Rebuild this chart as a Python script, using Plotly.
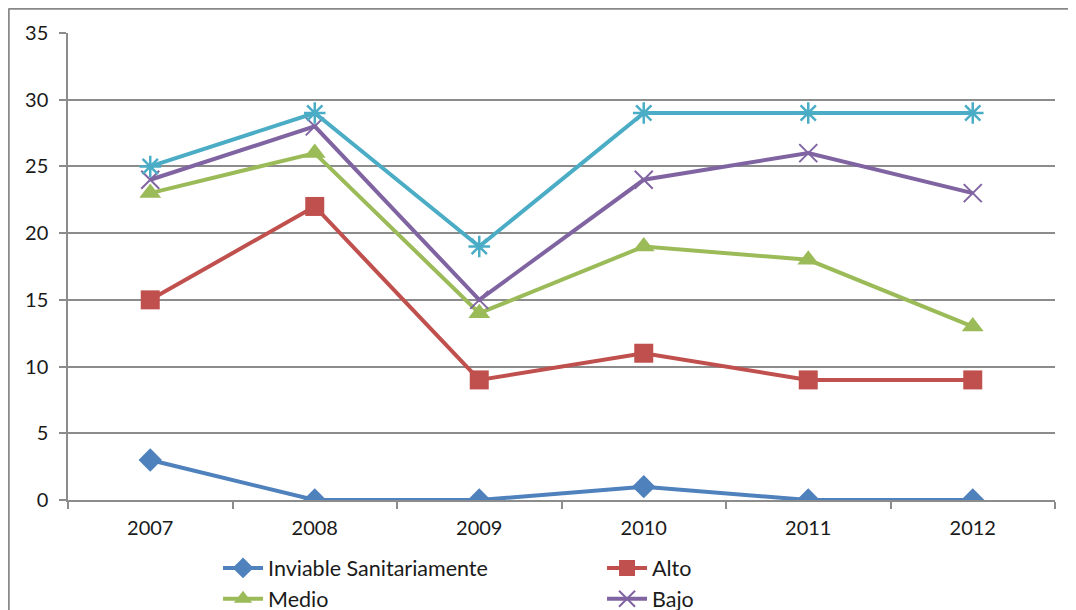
import plotly.graph_objects as go

years = ["2007", "2008", "2009", "2010", "2011", "2012"]
inviable = [3, 0, 0, 1, 0, 0]
alto = [15, 22, 9, 11, 9, 9]
medio = [23, 26, 14, 19, 18, 13]
bajo = [24, 28, 15, 24, 26, 23]
sin_riesgo = [25, 29, 19, 29, 29, 29]
y_ticks = [0, 5, 10, 15, 20, 25, 30, 35]

FONT = "Lato"
fig = go.Figure()

series = [
    ("Inviable Sanitariamente", inviable, "#4F81BD", dict(symbol="diamond", size=18), True),
    ("Alto", alto, "#C0504D", dict(symbol="square", size=19), True),
    ("Medio", medio, "#9BBB59", dict(symbol="triangle-up", size=19), True),
    ("Bajo", bajo, "#8064A2", dict(symbol="x-thin-open", size=18, line=dict(width=2, color="#8064A2")), True),
    ("Sin Riesgo", sin_riesgo, "#4BACC6", dict(symbol="asterisk-open", size=18, line=dict(width=2.5, color="#4BACC6")), False),
]
for name, vals, col, mk, show in series:
    fig.add_trace(go.Scatter(
        x=years, y=vals, name=name, mode="lines+markers",
        line=dict(color=col, width=4),
        marker=dict(color=col, **mk),
        showlegend=show,
    ))

# page is offset 8px by body margin -> margins chosen accordingly
L, T, R, B = 60, 25, 29, 118
PW, PH = 1076 - L - R, 610 - T - B

fig.update_layout(
    width=1076, height=610,
    margin=dict(l=L, r=R, t=T, b=B, autoexpand=False),
    paper_bgcolor="white", plot_bgcolor="white",
    font=dict(family=FONT, size=20, color="#1a1a1a"),
    showlegend=True,
    legend=dict(
        orientation="h", x=0.152, xanchor="left", y=-0.1015, yanchor="top",
        entrywidth=329, entrywidthmode="pixels",
        font=dict(family=FONT, size=21.5, color="#1a1a1a"),
        itemwidth=40, tracegroupgap=0, bgcolor="rgba(0,0,0,0)",
    ),
    xaxis=dict(
        type="category", range=[-0.5, 5.5], tickson="boundaries",
        showgrid=False, showline=True, linecolor="#8c8c8c", linewidth=1.5,
        ticks="outside", ticklen=7, tickcolor="#8c8c8c", tickwidth=1.5,
        ticklabelstandoff=9,
        zeroline=False,
    ),
    yaxis=dict(
        range=[0, 35], tickvals=y_ticks,
        showgrid=True, gridcolor="#8c8c8c", gridwidth=1.5,
        showline=True, linecolor="#8c8c8c", linewidth=1.5,
        ticks="outside", ticklen=7, tickcolor="#8c8c8c", tickwidth=1.5,
        ticklabelstandoff=7,
        zeroline=False,
    ),
)

# outer chart border (top and left edges visible)
bx = (0.5 - L) / PW
by = (PH + T - 0.5) / PH
fig.add_shape(type="line", xref="paper", yref="paper",
              x0=bx, x1=1.05, y0=by, y1=by,
              line=dict(color="#888888", width=2.5))
fig.add_shape(type="line", xref="paper", yref="paper",
              x0=bx, x1=bx, y0=by, y1=-0.3,
              line=dict(color="#888888", width=2.5))

fig.write_html("out.html")
